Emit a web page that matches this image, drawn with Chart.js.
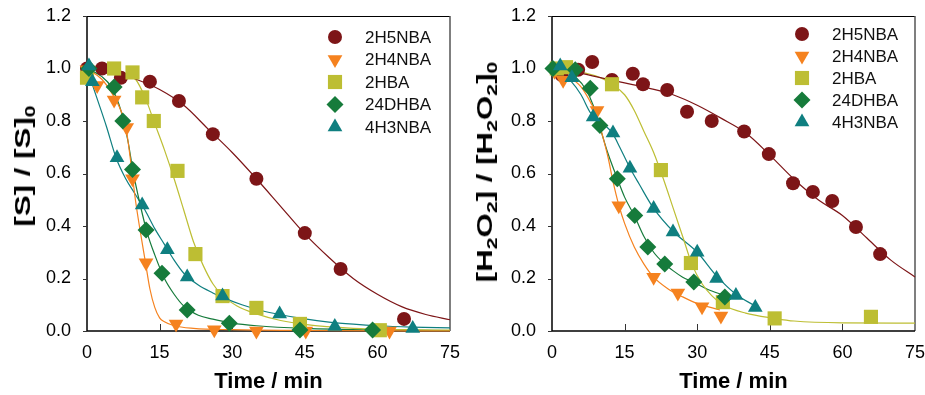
<!DOCTYPE html>
<html lang="en">
<head>
<meta charset="UTF-8">
<title>Degradation kinetics</title>
<style>
  body { margin: 0; background: #fff; font-family: 'Liberation Sans', Arial, sans-serif; }
  .wrap { position: relative; width: 925px; height: 395px; overflow: hidden; }
  .panel { position: absolute; top: 0; }
  .ytitle {
    position: absolute; font-weight: bold; font-size: 22px; line-height: 1; color: #000;
    white-space: nowrap; transform: translate(-50%, -50%) rotate(-90deg) scaleX(1.42);
  }
  .ytitle sub { font-size: 15px; vertical-align: -5px; line-height: 0; }
</style>
</head>
<body>
<div class="wrap">
  <canvas id="leftChart" class="panel" width="462" height="395" style="left:0"></canvas>
  <canvas id="rightChart" class="panel" width="463" height="395" style="left:462px"></canvas>
  <div class="ytitle" style="left:23px; top:166px">[S] / [S]<sub>0</sub></div>
  <div class="ytitle" style="left:485px; top:172px">[H<sub>2</sub>O<sub>2</sub>] / [H<sub>2</sub>O<sub>2</sub>]<sub>0</sub></div>
</div>

<script src="https://cdn.jsdelivr.net/npm/chart.js@4.4.0/dist/chart.umd.min.js"></script>
<script>
// series names, in legend order
const names = ['2H5NBA', '2H4NBA', '2HBA', '24DHBA', '4H3NBA'];
const xTicks = [0, 15, 30, 45, 60, 75];
const yTicks = [0, 0.2, 0.4, 0.6, 0.8, 1.0, 1.2];

// ---- left panel: [S]/[S]0, measured points [time, value]
const sPts2H5NBA = [[0,1.0],[3.1,1.0],[7,0.965],[13,0.95],[19,0.876],[26,0.75],[35,0.58],[45,0.373],[52.4,0.236],[65.5,0.046]];
const sPts2H4NBA = [[0,0.995],[2.1,0.935],[5.6,0.88],[8.2,0.775],[9.4,0.58],[12.2,0.26],[18.4,0.027],[26.3,0.005],[35,0.0],[45.2,0.0],[62.5,0.0]];
const sPts2HBA   = [[0,0.965],[5.6,1.0],[9.4,0.985],[11.4,0.89],[13.8,0.8],[18.7,0.61],[22.4,0.293],[28,0.133],[35,0.088],[44,0.027],[60.5,0.003]];
const sPts24DHBA = [[0.4,1.0],[5.6,0.93],[7.4,0.8],[9.4,0.615],[12.2,0.385],[15.5,0.22],[20.7,0.08],[29.4,0.03],[44,0.004],[59,0.004]];
const sPts4H3NBA = [[0.4,1.01],[1.1,0.95],[6.2,0.66],[11.4,0.48],[16.6,0.31],[20.7,0.206],[28,0.133],[39.8,0.065],[51.2,0.017],[67.3,0.01]];

// left panel fitted curves
const sFit2H5NBA = [[0,1.0],[5,0.99],[10,0.96],[15,0.92],[20,0.86],[25,0.77],[30,0.68],[35,0.58],[40,0.475],[45,0.37],[50,0.28],[55,0.2],[60,0.14],[65,0.093],[70,0.063],[75,0.043]];
const sFit2H4NBA = [[0,1.0],[3,0.96],[5,0.91],[7,0.84],[8,0.78],[9,0.65],[10,0.5],[11,0.38],[12,0.27],[13,0.16],[14,0.09],[15,0.05],[16,0.035],[18,0.02],[22,0.01],[30,0.005],[45,0.002],[75,0.0]];
const sFit2HBA   = [[0,1.0],[5,0.995],[8,0.98],[10,0.96],[12,0.89],[14,0.79],[16,0.69],[18,0.58],[20,0.46],[22,0.34],[24,0.25],[26,0.18],[28,0.135],[31,0.095],[35,0.065],[40,0.04],[45,0.025],[55,0.01],[65,0.005],[75,0.003]];
const sFit24DHBA = [[0,1.0],[3,0.97],[5,0.93],[7,0.84],[8.5,0.72],[9.5,0.61],[11,0.48],[12.5,0.37],[14,0.29],[16,0.2],[18,0.14],[20,0.095],[23,0.06],[26,0.045],[30,0.03],[35,0.02],[45,0.01],[60,0.004],[75,0.002]];
const sFit4H3NBA = [[0,1.0],[2,0.89],[4,0.78],[6,0.66],[8,0.58],[10,0.52],[12,0.46],[14,0.39],[16,0.33],[18,0.27],[20,0.22],[23,0.175],[26,0.145],[28,0.128],[32,0.1],[36,0.078],[40,0.062],[45,0.046],[50,0.034],[55,0.026],[60,0.02],[67,0.015],[75,0.012]];

// ---- right panel: [H2O2]/[H2O2]0, measured points
const hPts2H5NBA = [[2,0.975],[5.4,0.995],[8.3,1.025],[12.4,0.956],[16.7,0.98],[18.8,0.94],[23.8,0.918],[27.9,0.835],[33,0.8],[39.7,0.76],[44.8,0.674],[49.8,0.563],[53.9,0.53],[57.9,0.495],[62.8,0.396],[67.8,0.293]];
const hPts2H4NBA = [[0.5,0.99],[2.3,0.955],[4.3,0.995],[9.3,0.84],[13.8,0.477],[21,0.205],[26,0.145],[31,0.092],[34.9,0.057]];
const hPts2HBA   = [[1,1.0],[2.9,1.005],[12.4,0.94],[22.5,0.613],[28.7,0.259],[35.3,0.11],[46,0.048],[65.9,0.054]];
const hPts24DHBA = [[0.2,1.0],[4.8,0.995],[7.9,0.925],[9.9,0.783],[13.5,0.58],[17.1,0.44],[19.8,0.32],[23.3,0.255],[29.3,0.187],[35.7,0.13]];
const hPts4H3NBA = [[1.7,1.01],[4.1,0.965],[8.5,0.815],[12.6,0.754],[16.1,0.62],[21,0.467],[25,0.377],[30,0.3],[34,0.2],[38,0.135],[42,0.09]];

// right panel fitted curves
const hFit2H5NBA = [[0,1.0],[5,0.985],[10,0.965],[15,0.945],[20,0.925],[25,0.9],[30,0.86],[35,0.81],[40,0.755],[45,0.67],[50,0.578],[55,0.5],[60,0.44],[65,0.355],[70,0.27],[75,0.206]];
const hFit2H4NBA = [[0,1.0],[3,0.975],[6,0.93],[8,0.87],[9.3,0.82],[10.5,0.74],[11.6,0.66],[12.6,0.57],[13.8,0.48],[15,0.41],[17,0.32],[19,0.255],[21,0.205],[24,0.16],[27,0.13],[30,0.105],[34.7,0.08]];
const hFit2HBA   = [[0,1.0],[5,0.99],[10,0.965],[12.4,0.94],[15,0.9],[17,0.84],[19,0.76],[21,0.68],[23,0.58],[25,0.47],[27,0.36],[29,0.25],[31,0.18],[33,0.135],[35.3,0.1],[40,0.068],[46,0.048],[50,0.038],[60,0.031],[75,0.03]];
const hFit24DHBA = [[0,1.0],[3,0.985],[5,0.965],[7,0.92],[8.5,0.86],[10,0.77],[11.5,0.68],[13.5,0.58],[15,0.51],[17,0.44],[19,0.36],[21,0.3],[23,0.26],[25,0.23],[27,0.205],[29.3,0.185],[32,0.16],[35.7,0.135]];
const hFit4H3NBA = [[0,1.0],[2,0.98],[4,0.95],[6,0.9],[8,0.83],[10,0.8],[12.6,0.75],[14,0.7],[16,0.625],[18,0.56],[21,0.467],[25,0.38],[30,0.3],[34,0.21],[38,0.14],[42,0.095]];

// styling
const colors = ['#7d1517', '#f5821f', '#bdbe33', '#167b3b', '#0f7f80'];
const markers = [
  { style: 'circle', r: 7, rot: 0 },
  { style: 'triangle', r: 8.5, rot: 180 },
  { style: 'rect', r: 10, rot: 0 },
  { style: 'rectRot', r: 8.5, rot: 0 },
  { style: 'triangle', r: 8.5, rot: 0 }
];
const FONT = "'Liberation Sans', Arial, sans-serif";

const toXY = arr => arr.map(p => ({ x: p[0], y: p[1] }));

function buildDatasets(points, fits) {
  const ds = [];
  names.forEach((n, i) => {
    ds.push({
      label: n + ' fit', data: toXY(fits[i]), showLine: true,
      borderColor: colors[i], borderWidth: 1.2, pointRadius: 0,
      cubicInterpolationMode: 'monotone', fill: false, order: 10, clip: false
    });
  });
  names.forEach((n, i) => {
    ds.push({
      label: n, data: toXY(points[i]), showLine: false,
      backgroundColor: colors[i], borderColor: colors[i], pointBorderWidth: 0,
      pointStyle: markers[i].style, pointRadius: markers[i].r, pointRotation: markers[i].rot,
      order: 5 - i, clip: false
    });
  });
  return ds;
}

// box frame, inward x ticks, outward y ticks, legend inside the plot
const framePlugin = {
  id: 'frame',
  beforeDatasetsDraw(chart) {
    const { ctx, chartArea: a, scales } = chart;
    ctx.save();
    ctx.strokeStyle = '#000';
    ctx.lineWidth = 1;
    ctx.beginPath();
    ctx.moveTo(a.left, a.top + 0.5); ctx.lineTo(a.right, a.top + 0.5);
    ctx.stroke();
    ctx.strokeStyle = '#555';
    ctx.lineWidth = 1.5;
    ctx.beginPath();
    ctx.moveTo(a.right, a.top); ctx.lineTo(a.right, a.bottom);
    ctx.stroke();
    ctx.strokeStyle = '#000';
    ctx.lineWidth = 1.5;
    ctx.beginPath();
    ctx.moveTo(a.left, a.top); ctx.lineTo(a.left, a.bottom); ctx.lineTo(a.right, a.bottom);
    ctx.stroke();
    ctx.lineWidth = 1;
    ctx.strokeStyle = '#333';
    ctx.beginPath();
    xTicks.slice(1, -1).forEach(v => {
      const x = Math.round(scales.x.getPixelForValue(v)) + 0.5;
      ctx.moveTo(x, a.bottom); ctx.lineTo(x, a.bottom - 7);
    });
    yTicks.forEach(v => {
      const y = Math.round(scales.y.getPixelForValue(v)) + 0.5;
      ctx.moveTo(a.left, y); ctx.lineTo(a.left - 4, y);
    });
    ctx.stroke();
    ctx.restore();
  },
  afterDraw(chart, args, opts) {
    const { ctx, chartArea: a } = chart;
    const mx = a.right - opts.fromRight;
    ctx.save();
    ctx.font = '17px ' + FONT;
    ctx.textBaseline = 'middle';
    ctx.textAlign = 'left';
    names.forEach((n, i) => {
      const y = opts.top + i * opts.step;
      ctx.fillStyle = colors[i];
      Chart.helpers.drawPoint(ctx, {
        pointStyle: markers[i].style, radius: markers[i].r,
        rotation: markers[i].rot, borderWidth: 0
      }, mx, y);
      ctx.fillStyle = '#111';
      ctx.fillText(n, mx + 30, y + 1);
    });
    ctx.restore();
  }
};

function makeChart(id, points, fits, yWidth, padRight, legend) {
  return new Chart(document.getElementById(id), {
    type: 'scatter',
    data: { datasets: buildDatasets(points, fits) },
    options: {
      responsive: false,
      animation: false,
      events: [],
      layout: { padding: { top: 16, right: padRight, left: 0, bottom: 0 } },
      plugins: {
        legend: { display: false },
        tooltip: { enabled: false },
        frame: legend
      },
      scales: {
        x: {
          type: 'linear', min: 0, max: 75,
          afterBuildTicks: s => { s.ticks = xTicks.map(v => ({ value: v })); },
          afterFit: s => { s.height = 64; s.paddingLeft = 0; s.paddingRight = 0; },
          grid: { display: false },
          border: { display: false },
          ticks: { color: '#000', font: { family: FONT, size: 18 }, padding: 3, maxRotation: 0 },
          title: { display: true, text: 'Time / min', color: '#000',
                   font: { family: FONT, size: 22, weight: 'bold' }, padding: { top: 0, bottom: 0 } }
        },
        y: {
          type: 'linear', min: 0, max: 1.2,
          afterBuildTicks: s => { s.ticks = yTicks.map(v => ({ value: v })); },
          afterFit: s => { s.width = yWidth; s.paddingTop = 0; s.paddingBottom = 0; },
          grid: { display: false },
          border: { display: false },
          ticks: { color: '#000', font: { family: FONT, size: 18 }, padding: 8,
                   callback: v => Number(v).toFixed(1) }
        }
      }
    },
    plugins: [framePlugin]
  });
}

makeChart('leftChart',
  [sPts2H5NBA, sPts2H4NBA, sPts2HBA, sPts24DHBA, sPts4H3NBA],
  [sFit2H5NBA, sFit2H4NBA, sFit2HBA, sFit24DHBA, sFit4H3NBA],
  87, 12, { fromRight: 115, top: 37, step: 22.5 });

makeChart('rightChart',
  [hPts2H5NBA, hPts2H4NBA, hPts2HBA, hPts24DHBA, hPts4H3NBA],
  [hFit2H5NBA, hFit2H4NBA, hFit2HBA, hFit24DHBA, hFit4H3NBA],
  90, 10, { fromRight: 113, top: 34, step: 22 });
</script>
</body>
</html>
